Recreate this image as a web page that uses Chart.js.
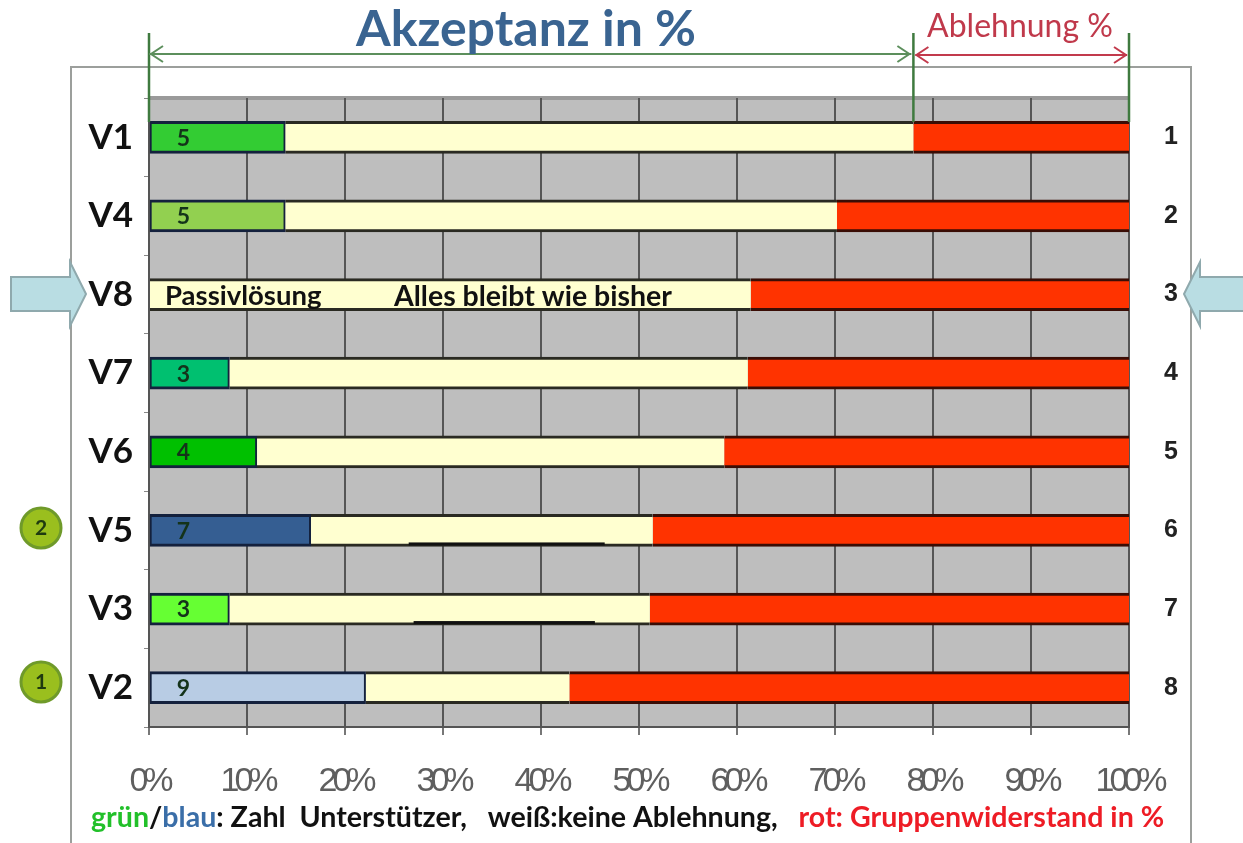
<!DOCTYPE html>
<html>
<head>
<meta charset="utf-8">
<style>html,body{margin:0;padding:0;background:#fff}canvas{display:block}</style>
<script src="https://cdn.jsdelivr.net/npm/chart.js@4"></script>
</head>
<body>
<canvas id="c" width="1243" height="843"></canvas>
<script>
const varianten = ['V1', 'V4', 'V8', 'V7', 'V6', 'V5', 'V3', 'V2'];
const raenge = ['1', '2', '3', '4', '5', '6', '7', '8'];
const unterstuetzerAnteil = [13.9, 13.9, 0, 8.2, 11, 16.5, 8.2, 22.1];
const keineAblehnung = [64.1, 56.3, 61.4, 52.9, 47.7, 34.9, 42.9, 20.8];
const gruppenwiderstand = [22, 29.8, 38.6, 38.9, 41.3, 48.6, 48.9, 57.1];
const unterstuetzerZahl = ['5', '5', '', '3', '4', '7', '3', '9'];
const balkenFarben = ['#33cc33', '#92d050', '#ffffd0', '#00c070', '#00c000', '#355e92', '#66ff33', '#b8cce4'];
const xTicks = [0, 10, 20, 30, 40, 50, 60, 70, 80, 90, 100];
const akzeptanzGrenze = 78;

const FONT = 'Lato, sans-serif';

function text(ctx, s, x, y, font, color, align) {
  ctx.font = font;
  ctx.fillStyle = color;
  ctx.textAlign = align || 'left';
  ctx.textBaseline = 'middle';
  ctx.fillText(s, x, y);
}

function pfeilspitze(ctx, x, y, dir) {
  ctx.beginPath();
  ctx.moveTo(x + dir * 12, y - 8);
  ctx.lineTo(x, y);
  ctx.lineTo(x + dir * 12, y + 8);
  ctx.stroke();
}

function blockpfeil(ctx, tip, dir, yMid) {
  ctx.beginPath();
  ctx.moveTo(tip, yMid);
  ctx.lineTo(tip - dir * 16, yMid - 32);
  ctx.lineTo(tip - dir * 16, yMid - 17);
  ctx.lineTo(tip - dir * 75, yMid - 17);
  ctx.lineTo(tip - dir * 75, yMid + 17);
  ctx.lineTo(tip - dir * 16, yMid + 17);
  ctx.lineTo(tip - dir * 16, yMid + 32);
  ctx.closePath();
  ctx.fillStyle = '#b9dde3';
  ctx.fill();
  ctx.strokeStyle = '#8fa9ad';
  ctx.lineWidth = 2;
  ctx.stroke();
}

function kreis(ctx, yPos, s) {
  ctx.beginPath();
  ctx.arc(41, yPos, 20, 0, Math.PI * 2);
  ctx.fillStyle = '#9abf1e';
  ctx.fill();
  ctx.strokeStyle = '#6f9a2a';
  ctx.lineWidth = 3;
  ctx.stroke();
  text(ctx, s, 41, yPos, 'bold 21px ' + FONT, '#1f3a10', 'center');
}

const hintergrund = {
  id: 'hintergrund',
  beforeDraw(chart) {
    const { ctx, chartArea: a } = chart;
    ctx.save();
    ctx.fillStyle = '#fff';
    ctx.fillRect(0, 0, chart.width, chart.height);
    ctx.strokeStyle = '#9c9f9c';
    ctx.lineWidth = 2;
    ctx.beginPath();
    ctx.moveTo(71, 860);
    ctx.lineTo(71, 67);
    ctx.lineTo(1191, 67);
    ctx.lineTo(1191, 860);
    ctx.stroke();
    ctx.fillStyle = '#bebebe';
    ctx.fillRect(a.left, a.top, a.right - a.left, a.bottom - a.top);
    ctx.fillStyle = '#9a9a9a';
    ctx.fillRect(a.left, a.top - 2, a.right - a.left, 4);
    ctx.restore();
  }
};

const beschriftung = {
  id: 'beschriftung',
  afterLayout(chart) {
    // enge Laufweite nur fuer die Prozentzahlen unten
    const s = chart.scales.x;
    if (s._engGesetzt) return;
    s._engGesetzt = true;
    const orig = s.drawLabels;
    s.drawLabels = function (area) {
      chart.ctx.letterSpacing = '-5px';
      orig.call(this, area);
      chart.ctx.letterSpacing = '0px';
    };
  },
  afterDatasetsDraw(chart) {
    const { ctx, scales: { x, y } } = chart;
    ctx.save();

    // Zahl der Unterstuetzer in den Balken
    unterstuetzerZahl.forEach((z, i) => {
      if (z) text(ctx, z, x.getPixelForValue(3.5), y.getPixelForValue(i) + 1, 'bold 23px ' + FONT, '#14331a', 'center');
    });

    // V8
    const yV8 = y.getPixelForValue(varianten.indexOf('V8')) + 2;
    text(ctx, 'Passivlösung', 165, yV8, 'bold 27.5px ' + FONT, '#111');
    text(ctx, 'Alles bleibt wie bisher', 394, yV8, 'bold 28.5px ' + FONT, '#111');

    // dicke Striche unter V5 und V3
    ctx.fillStyle = '#111';
    ctx.fillRect(x.getPixelForValue(26.5), y.getPixelForValue(5) + 12, x.getPixelForValue(46.5) - x.getPixelForValue(26.5), 3);
    ctx.fillRect(x.getPixelForValue(27), y.getPixelForValue(6) + 12, x.getPixelForValue(45.5) - x.getPixelForValue(27), 3);

    // Masslinien oben
    const x0 = x.getPixelForValue(0), xG = x.getPixelForValue(akzeptanzGrenze), x1 = x.getPixelForValue(100);
    ctx.lineWidth = 2.5;
    ctx.strokeStyle = '#3f7a3f';
    [x0, xG, x1].forEach(px => {
      ctx.beginPath();
      ctx.moveTo(px, 33);
      ctx.lineTo(px, 122);
      ctx.stroke();
    });
    ctx.lineWidth = 2;
    ctx.strokeStyle = '#5c8f5c';
    ctx.beginPath();
    ctx.moveTo(x0, 54);
    ctx.lineTo(xG - 2, 54);
    ctx.stroke();
    pfeilspitze(ctx, x0 + 2, 54, 1);
    pfeilspitze(ctx, xG - 4, 54, -1);
    ctx.strokeStyle = '#c23a4c';
    ctx.beginPath();
    ctx.moveTo(xG + 2, 55);
    ctx.lineTo(x1 - 2, 55);
    ctx.stroke();
    pfeilspitze(ctx, xG + 3, 55, 1);
    pfeilspitze(ctx, x1 - 3, 55, -1);

    text(ctx, 'Akzeptanz in %', 526, 30, 'bold 50px ' + FONT, '#3a6491', 'center');
    text(ctx, 'Ablehnung %', 1020, 27, '32px ' + FONT, '#c0394b', 'center');

    blockpfeil(ctx, 86, 1, 294);
    blockpfeil(ctx, 1184, -1, 294);
    kreis(ctx, 528, '2');
    kreis(ctx, 682, '1');

    // Legende als Textzeile
    const teile = [
      ['grün', '#22c02a'], ['/', '#111'], ['blau', '#3a6ea8'],
      [': Zahl  Unterstützer,   weiß:keine Ablehnung,   ', '#111'],
      ['rot: Gruppenwiderstand in %', '#ee1c25']
    ];
    let px = 91;
    teile.forEach(([s, c]) => {
      text(ctx, s, px, 818, 'bold 28.6px ' + FONT, c);
      px += ctx.measureText(s).width;
    });
    ctx.restore();
  }
};

new Chart(document.getElementById('c'), {
  type: 'bar',
  plugins: [hintergrund, beschriftung],
  data: {
    labels: varianten,
    datasets: [
      {
        label: 'Unterstützer',
        data: unterstuetzerAnteil,
        backgroundColor: balkenFarben,
        borderColor: '#14213d',
        borderWidth: { top: 3, bottom: 3, left: 2, right: 2 },
        borderSkipped: false,
        barThickness: 32
      },
      {
        label: 'keine Ablehnung',
        data: keineAblehnung,
        backgroundColor: '#ffffd0',
        borderColor: '#2a2a22',
        borderWidth: { top: 3, bottom: 3, left: 0, right: 0 },
        borderSkipped: false,
        barThickness: 32
      },
      {
        label: 'Gruppenwiderstand',
        data: gruppenwiderstand,
        backgroundColor: '#ff3300',
        borderColor: '#3a0d05',
        borderWidth: { top: 3, bottom: 3, left: 0, right: 0 },
        borderSkipped: false,
        barThickness: 32
      }
    ]
  },
  options: {
    indexAxis: 'y',
    responsive: false,
    animation: false,
    layout: { padding: { top: 98, left: 0, right: 0, bottom: 0 } },
    plugins: { legend: { display: false }, title: { display: false }, tooltip: { enabled: false } },
    scales: {
      x: {
        stacked: true,
        min: 0,
        max: 100,
        afterBuildTicks(s) { s.ticks = xTicks.map(v => ({ value: v })); },
        afterFit(s) { s.height = 116; },
        grid: { color: '#565656', lineWidth: 2, tickLength: 8, tickColor: '#777' },
        border: { color: '#555', width: 2 },
        ticks: {
          callback: v => v + '%',
          autoSkip: false,
          maxRotation: 0,
          padding: 26,
          color: '#5f5f5f',
          font: { family: '"Liberation Sans", sans-serif', size: 34 }
        }
      },
      y: {
        stacked: true,
        offset: true,
        afterFit(s) { s.width = 149; },
        grid: { offset: true, drawOnChartArea: false, tickLength: 5, tickColor: '#888' },
        border: { color: '#555', width: 2 },
        ticks: {
          padding: 11,
          color: '#111',
          font: { family: FONT, size: 35, weight: 'bold' }
        }
      },
      y1: {
        type: 'category',
        axis: 'y',
        labels: raenge,
        position: 'right',
        offset: true,
        afterFit(s) { s.width = 114; },
        grid: { display: false },
        border: { display: false },
        ticks: {
          padding: 27,
          color: '#222',
          font: { family: 'Liberation Sans, sans-serif', size: 25, weight: 'bold' }
        }
      }
    }
  }
});
</script>
</body>
</html>
